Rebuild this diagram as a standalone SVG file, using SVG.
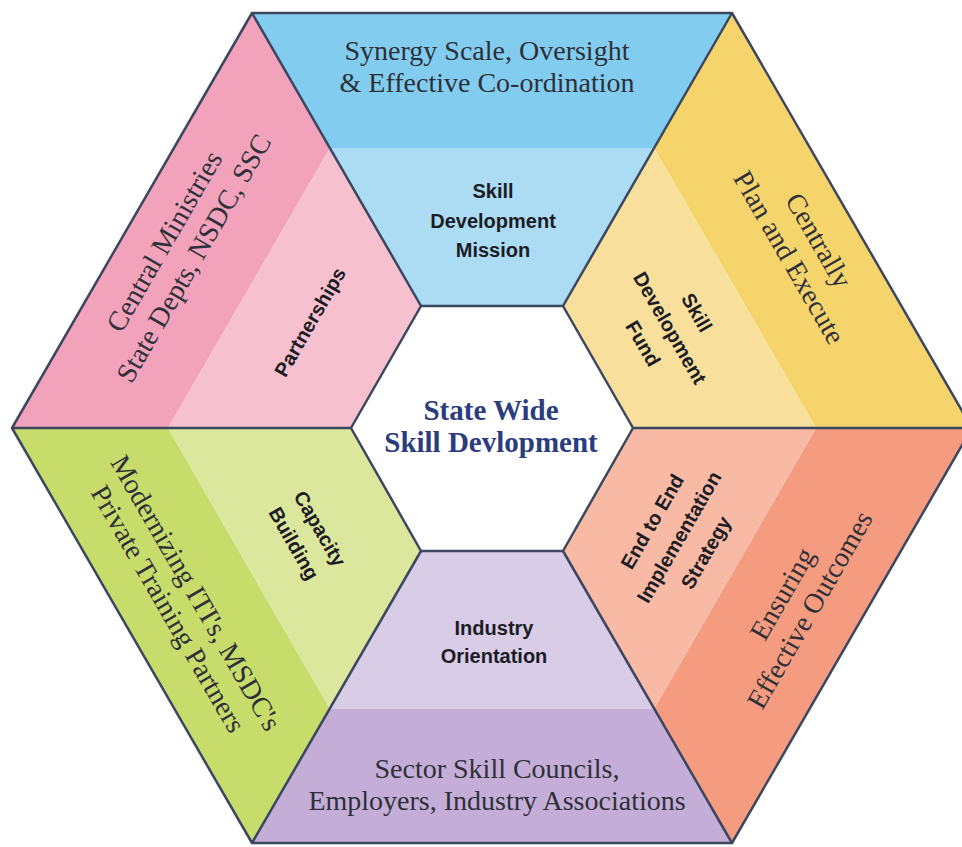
<svg xmlns="http://www.w3.org/2000/svg" width="962" height="847" viewBox="0 0 962 847">
<style>
.edge{fill:none;stroke:#3b4660;stroke-width:2.5;stroke-linejoin:round}
.outer{font-family:"Liberation Serif","Times New Roman",serif;font-size:28px;fill:#2e3038;text-anchor:middle}
.inner{font-family:"Liberation Sans",Arial,sans-serif;font-size:20px;font-weight:bold;fill:#1c1c24;text-anchor:middle}
.center{font-family:"Liberation Serif","Times New Roman",serif;font-size:29px;font-weight:bold;fill:#2b3d7e;text-anchor:middle}
</style>
<rect width="962" height="847" fill="#ffffff"/>
<g id="top-segment">
  <polygon points="252,13 732,13 654,148 330,148" fill="#82cdef"/>
  <polygon points="330,148 654,148 563,306 421,306" fill="#abdcf4"/>
  <text class="outer" x="487" y="60">Synergy Scale, Oversight</text>
  <text class="outer" x="487" y="92">&amp; Effective Co-ordination</text>
  <text class="inner" x="493" y="198">Skill</text>
  <text class="inner" x="493" y="228">Development</text>
  <text class="inner" x="493" y="257">Mission</text>
</g>
<g id="upper-right-segment">
  <polygon points="732,13 972,428 816,428 654,148" fill="#f5d46c"/>
  <polygon points="654,148 816,428 633,428 563,306" fill="#f8e09c"/>
  <g transform="translate(802,250) rotate(60)">
    <text class="outer" x="0" y="-10">Centrally</text>
    <text class="outer" x="0" y="24">Plan and Execute</text>
  </g>
  <g transform="translate(670,328) rotate(60)">
    <text class="inner" x="0" y="-24">Skill</text>
    <text class="inner" x="0" y="7">Development</text>
    <text class="inner" x="0" y="38">Fund</text>
  </g>
</g>
<g id="lower-right-segment">
  <polygon points="972,428 732,843 654,709 816,428" fill="#f59b80"/>
  <polygon points="816,428 654,709 563,551 633,428" fill="#f8b9a5"/>
  <g transform="translate(798,603) rotate(-60)">
    <text class="outer" x="0" y="-9">Ensuring</text>
    <text class="outer" x="0" y="23">Effective Outcomes</text>
  </g>
  <g transform="translate(679,537) rotate(-60)">
    <text class="inner" x="0" y="-24">End to End</text>
    <text class="inner" x="0" y="7">Implementation</text>
    <text class="inner" x="0" y="38">Strategy</text>
  </g>
</g>
<g id="bottom-segment">
  <polygon points="732,843 252,843 330,709 654,709" fill="#c4aed8"/>
  <polygon points="654,709 330,709 421,551 563,551" fill="#d8cce7"/>
  <text class="inner" x="494" y="635">Industry</text>
  <text class="inner" x="494" y="663">Orientation</text>
  <text class="outer" x="497" y="778">Sector Skill Councils,</text>
  <text class="outer" x="497" y="810">Employers, Industry Associations</text>
</g>
<g id="lower-left-segment">
  <polygon points="252,843 12,428 168,428 330,709" fill="#c8dc6b"/>
  <polygon points="330,709 168,428 351,428 421,551" fill="#dbe79d"/>
  <g transform="translate(180,602) rotate(60)">
    <text class="outer" x="0" y="-9">Modernizing ITI's, MSDC's</text>
    <text class="outer" x="0" y="23">Private Training Partners</text>
  </g>
  <g transform="translate(307,536) rotate(60)">
    <text class="inner" x="0" y="-8">Capacity</text>
    <text class="inner" x="0" y="22">Building</text>
  </g>
</g>
<g id="upper-left-segment">
  <polygon points="12,428 252,13 330,148 168,428" fill="#f2a2ba"/>
  <polygon points="168,428 330,148 421,306 351,428" fill="#f6c0cf"/>
  <g transform="translate(181,251) rotate(-60)">
    <text class="outer" x="0" y="-10">Central Ministries</text>
    <text class="outer" x="0" y="24">State Depts, NSDC, SSC</text>
  </g>
  <g transform="translate(310,322) rotate(-60)">
    <text class="inner" x="0" y="7">Partnerships</text>
  </g>
</g>
<g id="hub">
  <polygon points="421,306 563,306 633,428 563,551 421,551 351,428" fill="#ffffff"/>
  <text class="center" x="491" y="420">State Wide</text>
  <text class="center" x="491" y="452">Skill Devlopment</text>
</g>
<g id="connectors">
  <polygon class="edge" points="252,13 732,13 972,428 732,843 252,843 12,428"/>
  <polygon class="edge" points="421,306 563,306 633,428 563,551 421,551 351,428"/>
  <line class="edge" x1="252" y1="13" x2="421" y2="306"/>
  <line class="edge" x1="732" y1="13" x2="563" y2="306"/>
  <line class="edge" x1="972" y1="428" x2="633" y2="428"/>
  <line class="edge" x1="732" y1="843" x2="563" y2="551"/>
  <line class="edge" x1="252" y1="843" x2="421" y2="551"/>
  <line class="edge" x1="12" y1="428" x2="351" y2="428"/>
</g>
</svg>
